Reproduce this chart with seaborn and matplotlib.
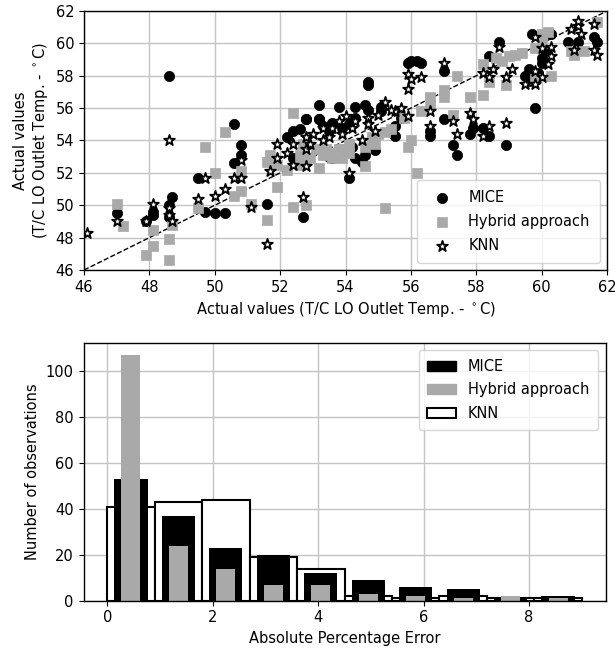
import numpy as np
import pandas as pd
import matplotlib
matplotlib.use("Agg")
import matplotlib.pyplot as plt
import seaborn as sns
from matplotlib.patches import Patch

# ---------------- scatter data (actual x, imputed y) ----------------
mice_x = [48.6, 47.0, 47.9, 48.1, 48.1, 48.6, 48.6, 48.7, 49.5, 49.7, 50.0, 50.3, 50.6, 50.6,
          50.8, 50.8, 51.6, 52.7, 52.2, 52.4, 52.6, 52.8, 53.2, 53.2, 53.3, 53.5, 53.8, 53.9,
          54.3, 54.3, 54.6, 54.7, 54.7, 54.7, 55.1, 55.1, 55.5, 55.5, 55.7, 55.9, 56.0, 56.2,
          56.3, 53.6, 54.5, 54.9, 54.2, 52.4, 54.1, 53.5, 54.3, 54.6, 52.8, 53.2, 53.6, 54.1,
          57.0, 57.0, 56.6, 56.6, 57.3, 57.4, 57.8, 57.9, 58.2, 58.4, 58.9, 58.7, 58.4, 59.7,
          59.8, 59.5, 59.7, 59.9, 60.0, 60.0, 60.1, 60.3, 60.8, 61.1, 61.6, 61.7, 59.6, 59.6]
mice_y = [58.0, 49.5, 49.0, 49.4, 49.6, 50.0, 49.3, 50.5, 51.7, 49.6, 49.5, 49.5, 55.0, 52.6,
          53.7, 53.1, 50.1, 49.3, 54.2, 54.6, 54.7, 55.3, 56.2, 55.3, 54.9, 54.6, 56.1, 54.8,
          56.1, 55.4, 56.2, 57.6, 57.4, 55.9, 56.1, 55.8, 54.9, 54.3, 55.4, 58.8, 58.9, 58.9,
          58.8, 52.9, 52.7, 53.4, 53.6, 52.9, 51.7, 53.0, 52.9, 53.1, 55.3, 55.3, 55.1, 55.0,
          58.3, 55.3, 54.6, 54.3, 53.7, 53.1, 54.4, 54.8, 54.8, 54.3, 53.7, 60.1, 59.2, 60.6,
          56.0, 58.0, 57.9, 58.2, 58.8, 59.1, 59.6, 60.6, 60.1, 60.1, 60.4, 60.1, 58.4, 57.7]

hyb_x = [47.0, 47.2, 47.9, 48.1, 48.1, 48.6, 48.6, 48.7, 49.5, 49.7, 50.0, 50.3, 50.6, 50.8,
         50.8, 51.1, 51.6, 51.9, 52.4, 52.4, 52.8, 51.6, 51.7, 51.9, 52.2, 52.6, 53.2, 52.9,
         53.4, 53.6, 53.8, 53.9, 54.1, 54.6, 54.9, 54.6, 55.2, 55.4, 55.8, 55.2, 55.9, 56.0,
         56.2, 56.3, 56.6, 56.6, 57.0, 57.0, 57.4, 57.3, 57.8, 58.2, 58.2, 58.4, 58.6, 58.9,
         59.0, 59.4, 59.8, 60.0, 60.2, 60.0, 60.3, 60.9, 61.0, 61.3, 61.7, 59.8, 59.2, 58.8,
         52.6, 53.1, 53.5, 53.8, 53.9, 53.3, 52.7, 54.1, 54.8, 55.0]
hyb_y = [50.1, 48.7, 46.9, 48.5, 47.5, 47.9, 46.6, 48.8, 49.8, 53.6, 52.0, 54.5, 50.6, 50.9,
         52.1, 50.1, 49.1, 51.1, 55.7, 49.9, 50.0, 52.7, 53.1, 52.5, 52.2, 52.5, 52.3, 52.9,
         53.5, 52.9, 53.3, 52.9, 53.2, 52.4, 53.8, 53.6, 54.5, 54.7, 55.4, 49.8, 53.6, 54.0,
         52.0, 55.8, 56.7, 56.2, 57.1, 56.7, 58.0, 55.6, 56.7, 56.8, 58.7, 57.6, 59.1, 57.4,
         59.2, 59.4, 59.7, 60.6, 60.7, 60.0, 58.0, 59.5, 59.3, 59.5, 61.3, 57.8, 59.3, 58.9,
         53.1, 53.5, 53.2, 53.5, 53.5, 53.1, 53.8, 53.8, 54.2, 54.4]

knn_x = [46.1, 47.0, 48.1, 47.9, 48.6, 48.6, 48.6, 48.7, 49.5, 49.7, 50.0, 50.3, 50.6, 50.8,
         50.8, 51.1, 51.6, 51.7, 51.9, 51.9, 52.2, 52.4, 52.4, 52.7, 52.8, 52.8, 53.0, 53.3,
         53.8, 53.9, 54.2, 54.5, 54.7, 55.0, 55.2, 55.5, 55.9, 54.1, 55.9, 55.9, 56.0, 56.3,
         57.0, 56.6, 56.6, 57.3, 57.4, 57.8, 57.9, 58.2, 58.4, 58.9, 58.2, 58.4, 58.7, 58.5,
         58.9, 59.1, 59.5, 59.8, 59.8, 59.8, 60.0, 60.0, 60.2, 60.3, 60.3, 61.0, 61.1, 61.1,
         61.2, 61.6, 61.7, 61.6, 60.9, 52.9, 53.5, 53.6, 54.0, 54.3, 54.7, 54.9, 55.4, 55.7,
         53.3, 52.8]
knn_y = [48.3, 49.0, 50.1, 49.0, 54.0, 49.8, 49.4, 49.0, 50.4, 51.7, 50.6, 51.0, 51.7, 51.7,
         52.8, 49.9, 47.6, 52.1, 53.8, 52.9, 53.2, 53.8, 52.5, 50.5, 52.4, 53.5, 54.4, 54.0,
         55.2, 54.4, 54.8, 54.0, 55.4, 55.6, 56.4, 55.8, 55.5, 52.0, 57.2, 58.1, 57.8, 57.9,
         58.8, 55.8, 54.9, 55.2, 54.4, 55.7, 55.3, 54.3, 54.9, 55.1, 58.2, 57.9, 59.8, 58.4,
         57.9, 58.4, 57.5, 57.5, 58.3, 60.4, 57.9, 59.7, 58.7, 59.2, 59.8, 59.6, 61.1, 61.4,
         60.6, 59.6, 59.3, 61.2, 60.9, 53.8, 54.2, 54.8, 55.5, 55.2, 55.0, 54.6, 55.9, 56.0,
         54.8, 54.2]

# ---------------- histogram data (absolute percentage error) ----------------
bin_edges = [0.0, 0.9, 1.8, 2.7, 3.6, 4.5, 5.4, 6.3, 7.2, 8.1, 9.0]
mice_counts = [53, 37, 23, 20, 12, 9, 6, 5, 1, 2]
hybrid_counts = [107, 24, 14, 7, 7, 3, 2, 1, 2, 1]
knn_counts = [41, 43, 44, 19, 14, 2, 1, 2, 1, 1]

series_names = ["MICE", "Hybrid approach", "KNN"]

GRAY = "#a9a9a9"
FS = 10.5

plt.rcParams.update({
    "font.family": ["DejaVu Sans"],
    "font.size": FS,
    "axes.grid": True,
    "grid.color": "#c4c4c4",
    "grid.linewidth": 1.0,
    "axes.edgecolor": "black",
    "axes.linewidth": 1.0,
    "xtick.color": "black",
    "ytick.color": "black",
    "axes.axisbelow": True,
})

fig = plt.figure(figsize=(6.15, 6.5), dpi=100)
ax1 = fig.add_axes([0.1366, 0.5846, 0.8504, 0.3985])
ax2 = fig.add_axes([0.1358, 0.0758, 0.8488, 0.3970])

# ---- top scatter ----
ax1.plot([46, 62], [46, 62], "k--", lw=1.0, zorder=1)
sns.scatterplot(x=mice_x, y=mice_y, ax=ax1, color="black", marker="o", s=55,
                edgecolor="black", linewidth=0.5, label=series_names[0], zorder=2)
sns.scatterplot(x=hyb_x, y=hyb_y, ax=ax1, color=GRAY, marker="s", s=50,
                edgecolor=GRAY, linewidth=0.5, label=series_names[1], zorder=3)
sns.scatterplot(x=knn_x, y=knn_y, ax=ax1, color="white", marker="*", s=65,
                edgecolor="black", linewidth=1.3, label=series_names[2], zorder=4)
ax1.set_xlim(46, 62)
ax1.set_ylim(46, 62)
ax1.set_xticks(np.arange(46, 63, 2))
ax1.set_yticks(np.arange(46, 63, 2))
ax1.set_xlabel(r"Actual values (T/C LO Outlet Temp. - $^\circ$C)")
ax1.set_ylabel("Actual values\n" + r"(T/C LO Outlet Temp. - $^\circ$C)")
ax1.legend(loc="lower right", fontsize=FS, borderpad=0.7, labelspacing=0.6)

# ---- bottom histogram ----
centers = [(bin_edges[i] + bin_edges[i + 1]) / 2 for i in range(len(bin_edges) - 1)]
hist_df = pd.DataFrame({"center": centers, "MICE": mice_counts,
                        "Hybrid": hybrid_counts, "KNN": knn_counts})
sns.histplot(data=hist_df, x="center", weights="KNN", bins=bin_edges, ax=ax2,
             color="white", edgecolor="black", linewidth=1.5, alpha=1, shrink=1.0)
sns.histplot(data=hist_df, x="center", weights="MICE", bins=bin_edges, ax=ax2,
             color="black", edgecolor="none", linewidth=0, alpha=1, shrink=0.7)
sns.histplot(data=hist_df, x="center", weights="Hybrid", bins=bin_edges, ax=ax2,
             color=GRAY, edgecolor="none", linewidth=0, alpha=1, shrink=0.4)
ax2.set_xticks([0, 2, 4, 6, 8])
ax2.set_yticks([0, 20, 40, 60, 80, 100])
ax2.set_xlim(-0.45, 9.45)
ax2.set_ylim(0, 112.4)
ax2.set_xlabel("Absolute Percentage Error")
ax2.set_ylabel("Number of observations")
handles = [Patch(facecolor="black", edgecolor="black"),
           Patch(facecolor=GRAY, edgecolor=GRAY),
           Patch(facecolor="white", edgecolor="black", linewidth=1.5)]
ax2.legend(handles, series_names, loc="upper right", fontsize=FS,
           borderpad=0.6, labelspacing=0.6)

fig.savefig("out.png", dpi=100)
